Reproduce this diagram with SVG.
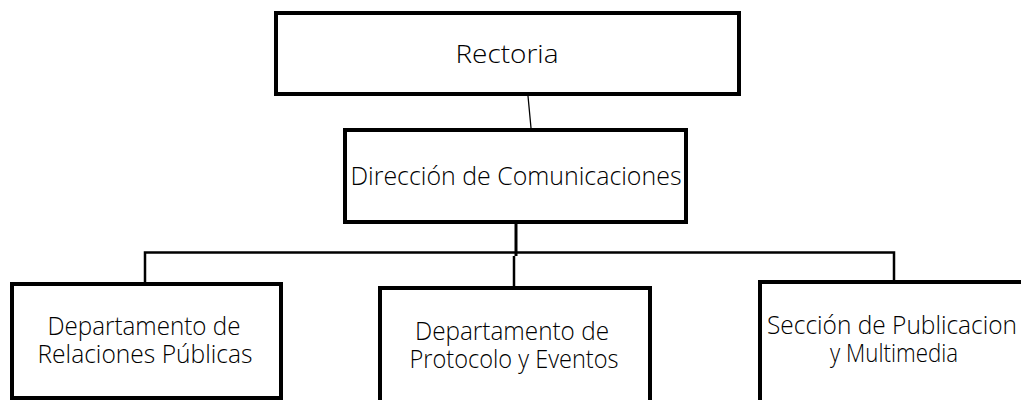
<svg xmlns="http://www.w3.org/2000/svg" width="1021" height="400" viewBox="0 0 1021 400">
  <style>
    .box { fill: #ffffff; stroke: #000000; stroke-width: 4; }
    .lbl { font-family: "Open Sans", "Noto Sans", "Liberation Sans", sans-serif; font-weight: 300; fill: #000000; text-anchor: middle; }
    .big { font-size: 26.5px; }
    .mid { font-size: 26px; }
    .conn { fill: none; stroke: #000000; stroke-linejoin: miter; stroke-linecap: butt; }
  </style>
  <rect width="1021" height="400" fill="#ffffff"/>
  <g id="connectors">
    <line class="conn" x1="528" y1="96" x2="531" y2="128" stroke-width="1.3"/>
    <line class="conn" x1="516" y1="224" x2="516" y2="256" stroke-width="3"/>
    <path class="conn" d="M145,282 V252.5 H894 V280" stroke-width="2.5"/>
    <line class="conn" x1="514" y1="256" x2="514" y2="286" stroke-width="2.5"/>
  </g>
  <g id="rectoria">
    <rect class="box" x="276" y="13" width="463" height="81"/>
    <text class="lbl big" x="507" y="63" textLength="103" lengthAdjust="spacingAndGlyphs">Rectoria</text>
  </g>
  <g id="direccion">
    <rect class="box" x="345" y="130" width="341" height="92"/>
    <text class="lbl big" x="516" y="185" textLength="331" lengthAdjust="spacingAndGlyphs">Dirección de Comunicaciones</text>
  </g>
  <g id="relaciones">
    <rect class="box" x="12" y="284" width="269" height="114"/>
    <text class="lbl mid" x="144" y="335" textLength="193" lengthAdjust="spacingAndGlyphs">Departamento de</text>
    <text class="lbl mid" x="145" y="363" textLength="215" lengthAdjust="spacingAndGlyphs">Relaciones Públicas</text>
  </g>
  <g id="protocolo">
    <rect class="box" x="380" y="288" width="270" height="130"/>
    <text class="lbl mid" x="512" y="340" textLength="194" lengthAdjust="spacingAndGlyphs">Departamento de</text>
    <text class="lbl mid" x="514" y="368" textLength="209" lengthAdjust="spacingAndGlyphs">Protocolo y Eventos</text>
  </g>
  <g id="publicaciones">
    <rect class="box" x="760" y="282" width="300" height="140"/>
    <text class="lbl mid" x="767" y="334" style="text-anchor:start" textLength="250" lengthAdjust="spacingAndGlyphs">Sección de Publicacion</text>
    <text class="lbl mid" x="894" y="362" textLength="128" lengthAdjust="spacingAndGlyphs">y Multimedia</text>
  </g>
</svg>
